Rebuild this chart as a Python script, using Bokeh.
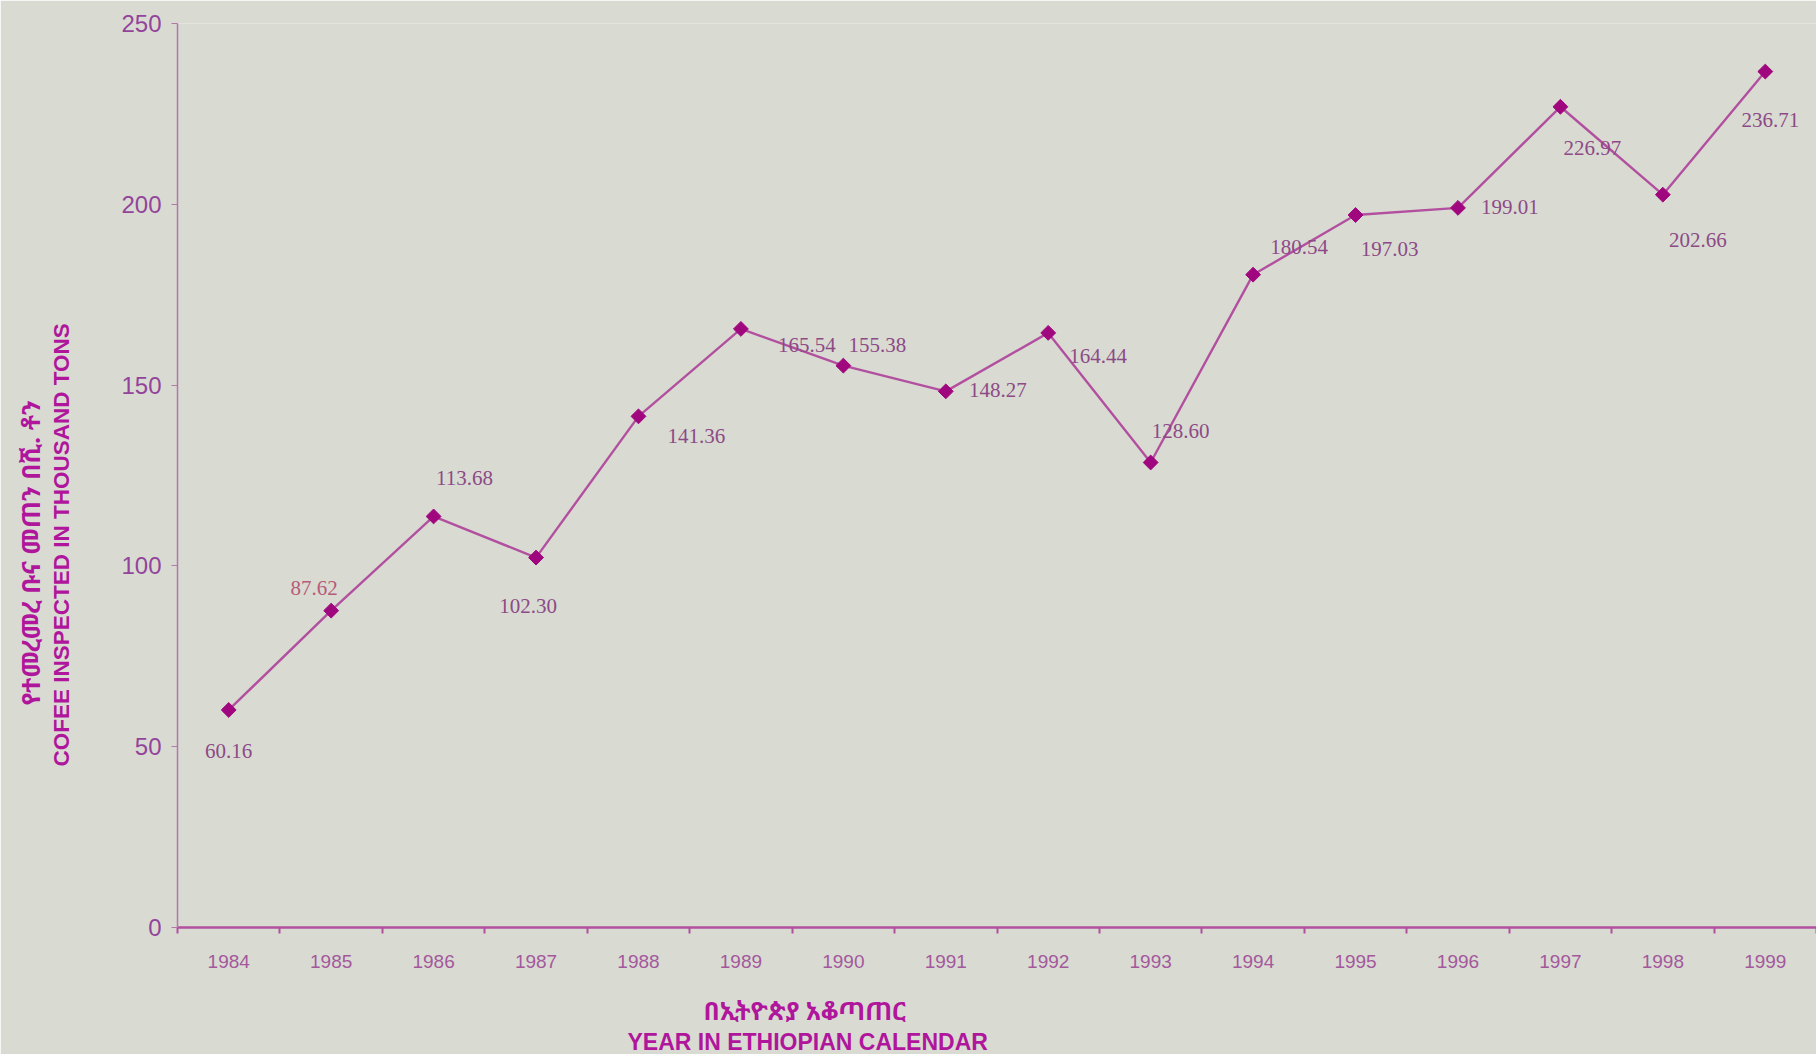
import math
from bokeh.plotting import figure
from bokeh.models import ColumnDataSource, FixedTicker, Range1d, Title
from bokeh.core.properties import value
from bokeh.embed import file_html
from bokeh.resources import INLINE

# ---- data ----
years = [1984, 1985, 1986, 1987, 1988, 1989, 1990, 1991,
         1992, 1993, 1994, 1995, 1996, 1997, 1998, 1999]
coffee = [60.16, 87.62, 113.68, 102.30, 141.36, 165.54, 155.38, 148.27,
          164.44, 128.60, 180.54, 197.03, 199.01, 226.97, 202.66, 236.71]
value_labels = ["60.16", "87.62", "113.68", "102.30", "141.36", "165.54", "155.38", "148.27",
                "164.44", "128.60", "180.54", "197.03", "199.01", "226.97", "202.66", "236.71"]
y_ticks = [0, 50, 100, 150, 200, 250]

# label placement / colour (screen px, style only)
lab_dx = [0, -17, 31, -8, 58, 66, 34, 52, 50, 30, 46, 34, 52, 32, 35, 5]
lab_dy = [41, -23, -38, 48, 20, 16, -21, -1, 23, -31, -28, 34, -1, 41, 45, 48]
TXT = "#8d4a86"
lab_col = [TXT, "#b85a78"] + [TXT] * 14

BG = "#d9dbd3"
LINE = "#b2509f"
MARK = "#a0067e"
TITLE = "#b0169c"
ETH_FONT = "'Noto Sans Ethiopic', 'Abyssinica SIL', 'Noto Serif Ethiopic', 'Noto Sans', sans-serif"

p = figure(width=1816, height=1054, output_backend="svg", toolbar_location=None,
           x_range=Range1d(years[0] - 0.5, years[-1] + 0.5), y_range=Range1d(0, 250),
           min_border_left=177, min_border_right=0, min_border_top=23, min_border_bottom=126)
p.background_fill_color = BG
p.border_fill_color = BG
p.outline_line_color = None
p.xgrid.visible = False
p.ygrid.visible = False

src = ColumnDataSource(dict(x=years, y=coffee, t=value_labels, dx=lab_dx, dy=lab_dy, c=lab_col))
p.line("x", "y", source=src, line_color=LINE, line_width=2.4)
p.scatter("x", "y", source=src, marker="square", angle=math.pi / 4, size=10.5,
          fill_color=MARK, line_color=MARK)
p.text("x", "y", text="t", source=src, x_offset="dx", y_offset="dy",
       text_font=value("Liberation Serif"), text_font_size="21px", text_color="c",
       text_align="center", text_baseline="middle")

# x axis: labels at year centres, tick marks between years
xa = p.xaxis[0]
xa.ticker = FixedTicker(ticks=years, minor_ticks=[y - 0.5 for y in years] + [years[-1] + 0.5])
xa.major_label_overrides = {y: str(y) for y in years}
xa.major_tick_out = 0
xa.major_tick_in = 0
xa.minor_tick_out = 6
xa.minor_tick_in = 0
xa.minor_tick_line_color = LINE
xa.minor_tick_line_width = 2
xa.axis_line_color = LINE
xa.axis_line_width = 2.5
xa.major_label_text_font = "Liberation Sans"
xa.major_label_text_font_size = "19px"
xa.major_label_text_color = "#a4589c"
xa.major_label_standoff = 21

ya = p.yaxis[0]
ya.ticker = FixedTicker(ticks=y_ticks)
ya.minor_tick_line_color = None
ya.major_tick_out = 6
ya.major_tick_in = 0
ya.major_tick_line_color = "#b07aa8"
ya.axis_line_color = "#b07aa8"
ya.axis_line_width = 1.5
ya.major_label_text_font = "Liberation Sans"
ya.major_label_text_font_size = "24px"
ya.major_label_text_color = "#93449a"
ya.major_label_standoff = 10

# axis titles (first added sits closest to the axis); blank titles are spacers
p.add_layout(Title(text=" ", text_font_size="2px", standoff=41), "left")
p.add_layout(Title(text="COFEE INSPECTED IN THOUSAND TONS", align="left", offset=161,
                   text_font="Liberation Sans", text_font_size="22.5px", text_font_style="bold",
                   text_color=TITLE, standoff=0), "left")
p.add_layout(Title(text="የተመረመረ ቡና መጠን በሺ. ቶን", align="left", offset=222,
                   text_font=ETH_FONT, text_font_size="25px", text_font_style="bold",
                   text_color=TITLE, standoff=0), "left")

p.add_layout(Title(text=" ", text_font_size="2px", standoff=16), "below")
p.add_layout(Title(text="በኢትዮጵያ አቆጣጠር", align="left", offset=526,
                   text_font=ETH_FONT, text_font_size="25px", text_font_style="bold",
                   text_color=TITLE, standoff=0), "below")
p.add_layout(Title(text="YEAR IN ETHIOPIAN CALENDAR", align="left", offset=450,
                   text_font="Liberation Sans", text_font_size="23px", text_font_style="bold",
                   text_color=TITLE, standoff=0), "below")

open("out.html", "w").write(file_html(p, INLINE))
